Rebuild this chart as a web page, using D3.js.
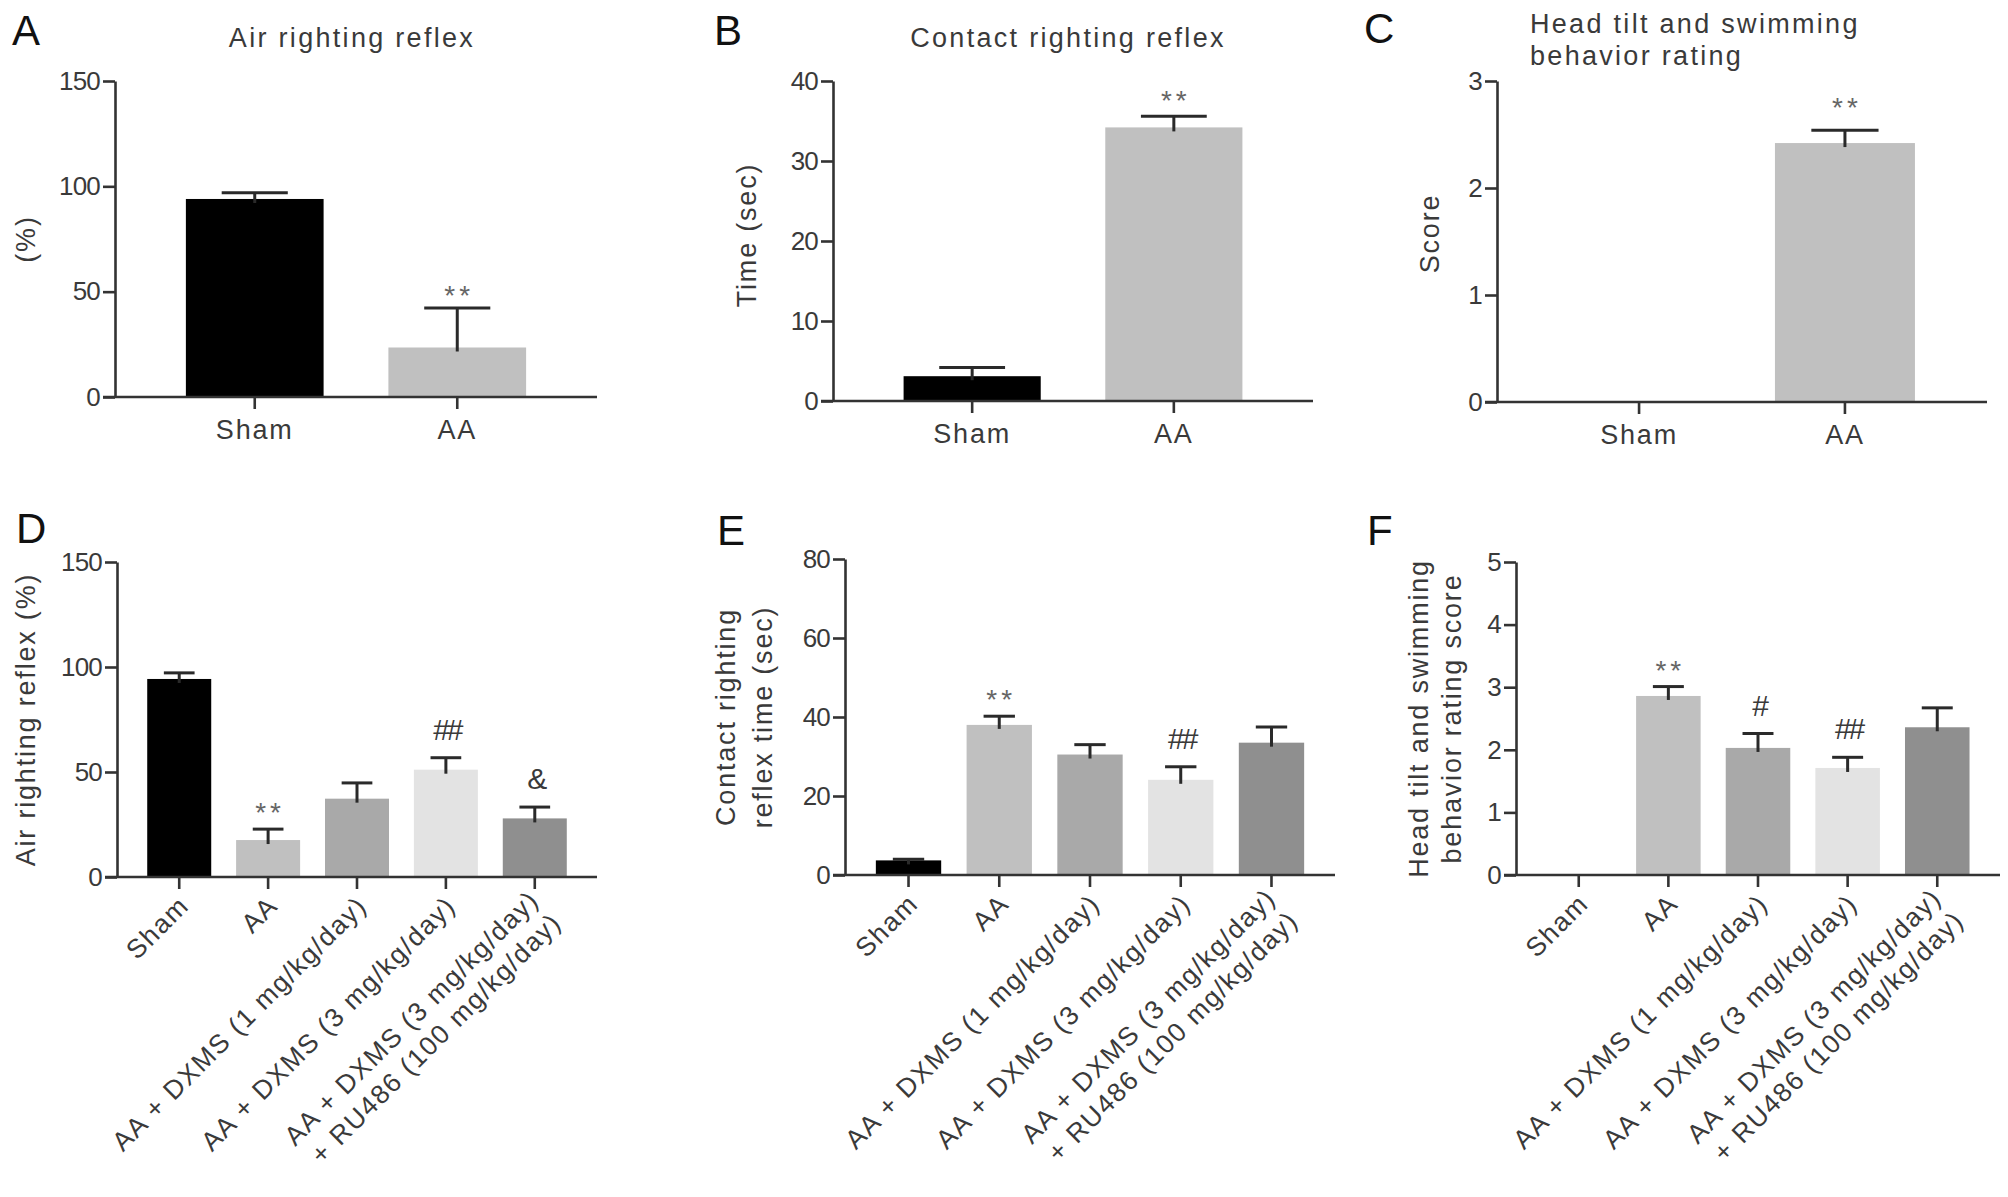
<!DOCTYPE html>
<html lang="en">
<head>
<meta charset="UTF-8">
<title>Righting reflex and head tilt panels</title>
<script src="https://d3js.org/d3.v7.min.js"></script>
<style>
  body { margin: 0; background: #fff; }
  svg { display: block; font-family: "Liberation Sans", Arial, sans-serif; }
  .tick text { fill: #3a3a3a; }
  .domain, .tick line { stroke: #333; stroke-width: 2.6; }
</style>
</head>
<body>
<div id="chart"></div>
<script>
// ---- data ----
const topGroups = [["Sham"], ["AA"]];
const bottomGroups = [
  ["Sham"],
  ["AA"],
  ["AA + DXMS (1 mg/kg/day)"],
  ["AA + DXMS (3 mg/kg/day)"],
  ["AA + DXMS (3 mg/kg/day)", "+ RU486 (100 mg/kg/day)"]
];
const groupColors = ["#000000", "#c0c0c0", "#a9a9a9", "#e3e3e3", "#8f8f8f"];

// A: air righting reflex (%)
const airTopMean = [94, 23.5];
const airTopSem = [3, 18.7];
const airTopMarks = ["", "**"];
// B: contact righting reflex (sec)
const contactTopMean = [3.1, 34.2];
const contactTopSem = [1.1, 1.4];
const contactTopMarks = ["", "**"];
// C: head tilt and swimming score
const scoreTopMean = [0, 2.42];
const scoreTopSem = [0, 0.12];
const scoreTopMarks = ["", "**"];
// D: air righting reflex (%)
const airBottomMean = [94.3, 17.6, 37.3, 51.1, 27.9];
const airBottomSem = [2.9, 5.2, 7.5, 5.7, 5.4];
const airBottomMarks = ["", "**", "", "##", "&"];
// E: contact righting reflex time (sec)
const contactBottomMean = [3.7, 38.0, 30.5, 24.1, 33.5];
const contactBottomSem = [0.3, 2.2, 2.5, 3.3, 4.0];
const contactBottomMarks = ["", "**", "", "##", ""];
// F: head tilt and swimming behavior rating score
const scoreBottomMean = [0, 2.86, 2.03, 1.71, 2.36];
const scoreBottomSem = [0, 0.15, 0.23, 0.17, 0.31];
const scoreBottomMarks = ["", "**", "#", "##", ""];

const ticksAir = [0, 50, 100, 150];
const ticksContactTop = [0, 10, 20, 30, 40];
const ticksScoreTop = [0, 1, 2, 3];
const ticksContactBottom = [0, 20, 40, 60, 80];
const ticksScoreBottom = [0, 1, 2, 3, 4, 5];

const W = 2008, H = 1197;
const svg = d3.select("#chart").append("svg")
    .attr("width", W)
    .attr("height", H);
svg.append("rect").attr("width", W).attr("height", H).attr("fill", "#fff");

const panels = [
  {letter: "A", lx: 12, ly: 45, groups: topGroups, mean: airTopMean, sem: airTopSem, marks: airTopMarks,
   ticks: ticksAir, max: 150, x0: 115, x1: 597, y0: 397, yTop: 81, lift: 0,
   title: ["Air righting reflex"], tx: 352, ty: 47, tAnchor: "middle",
   ylab: ["(%)"], ylabX: [26], ylabShift: 0},
  {letter: "B", lx: 714, ly: 45, groups: topGroups, mean: contactTopMean, sem: contactTopSem, marks: contactTopMarks,
   ticks: ticksContactTop, max: 40, x0: 833, x1: 1313, y0: 401, yTop: 81, lift: 3,
   title: ["Contact righting reflex"], tx: 1068, ty: 47, tAnchor: "middle",
   ylab: ["Time (sec)"], ylabX: [747], ylabShift: -6},
  {letter: "C", lx: 1364, ly: 43, groups: topGroups, mean: scoreTopMean, sem: scoreTopSem, marks: scoreTopMarks,
   ticks: ticksScoreTop, max: 3, x0: 1497, x1: 1987, y0: 402, yTop: 81, lift: 10,
   title: ["Head tilt and swimming", "behavior rating"], tx: 1530, ty: 33, tAnchor: "start",
   ylab: ["Score"], ylabX: [1430], ylabShift: -8},
  {letter: "D", lx: 16, ly: 543, groups: bottomGroups, mean: airBottomMean, sem: airBottomSem, marks: airBottomMarks,
   ticks: ticksAir, max: 150, x0: 117, x1: 597, y0: 877, yTop: 562, lift: 4,
   title: [], ylab: ["Air righting reflex (%)"], ylabX: [26], ylabShift: 0},
  {letter: "E", lx: 717, ly: 545, groups: bottomGroups, mean: contactBottomMean, sem: contactBottomSem, marks: contactBottomMarks,
   ticks: ticksContactBottom, max: 80, x0: 845, x1: 1335, y0: 875, yTop: 559, lift: 4,
   title: [], ylab: ["Contact righting", "reflex time (sec)"], ylabX: [726, 763], ylabShift: 0},
  {letter: "F", lx: 1367, ly: 545, groups: bottomGroups, mean: scoreBottomMean, sem: scoreBottomSem, marks: scoreBottomMarks,
   ticks: ticksScoreBottom, max: 5, x0: 1516, x1: 2000, y0: 875, yTop: 562, lift: 4,
   title: [], ylab: ["Head tilt and swimming", "behavior rating score"], ylabX: [1419, 1452], ylabShift: 0}
];

const keyOf = g => g.join(" ");
const isStar = t => t[0] === "*";

panels.forEach(function(p) {
  const g = svg.append("g");
  const rotated = p.groups.length > 2;
  const x = d3.scaleBand()
      .domain(p.groups.map(keyOf))
      .range([p.x0, p.x1])
      .paddingInner(rotated ? 0.28 : 0.32)
      .paddingOuter(rotated ? 0.34 : 0.35);
  const y = d3.scaleLinear().domain([0, p.max]).range([p.y0, p.yTop]);
  const bw = x.bandwidth();
  const cx = i => x(keyOf(p.groups[i])) + bw / 2;

  // bars
  g.selectAll("rect.bar")
      .data(p.mean)
      .join("rect")
      .attr("class", "bar")
      .attr("x", (d, i) => x(keyOf(p.groups[i])))
      .attr("y", d => y(d))
      .attr("width", bw)
      .attr("height", d => p.y0 - y(d))
      .attr("fill", (d, i) => groupColors[i]);

  // upper error bars
  const err = p.mean.map((m, i) => ({m: m, s: p.sem[i], i: i})).filter(d => d.s > 0);
  const capW = bw * 0.48;
  g.selectAll("line.stem")
      .data(err)
      .join("line")
      .attr("x1", d => cx(d.i)).attr("x2", d => cx(d.i))
      .attr("y1", d => y(d.m) + 4).attr("y2", d => y(d.m + d.s))
      .attr("stroke", "#2a2a2a").attr("stroke-width", 3);
  g.selectAll("line.cap")
      .data(err)
      .join("line")
      .attr("x1", d => cx(d.i) - capW / 2).attr("x2", d => cx(d.i) + capW / 2)
      .attr("y1", d => y(d.m + d.s)).attr("y2", d => y(d.m + d.s))
      .attr("stroke", "#2a2a2a").attr("stroke-width", 3);

  // significance marks
  g.selectAll("text.mark")
      .data(p.mean.map((m, i) => ({m: m, s: p.sem[i], t: p.marks[i], i: i})).filter(d => d.t))
      .join("text")
      .attr("x", d => cx(d.i) + (isStar(d.t) ? 2 : 1))
      .attr("y", d => y(d.m + d.s) - (isStar(d.t) ? 3 + p.lift : 18))
      .attr("text-anchor", "middle")
      .attr("font-size", d => isStar(d.t) ? 28 : 30)
      .attr("letter-spacing", d => isStar(d.t) ? 4 : -3)
      .attr("fill", d => isStar(d.t) ? "#666" : "#3a3a3a")
      .text(d => d.t);

  // axes
  g.append("g")
      .attr("transform", `translate(${p.x0},0)`)
      .call(d3.axisLeft(y).tickValues(p.ticks).tickFormat(d3.format("d"))
          .tickSize(12).tickSizeOuter(0).tickPadding(3))
      .call(a => a.selectAll("text").attr("font-size", 26).attr("letter-spacing", -0.8));

  const xa = g.append("g")
      .attr("transform", `translate(0,${p.y0})`)
      .call(d3.axisBottom(x).tickSize(12).tickSizeOuter(0).tickFormat(""));
  xa.select(".domain").attr("d", `M${p.x0 - 12},0H${p.x1}`);

  // category labels
  p.groups.forEach(function(lines, i) {
    if (!rotated) {
      g.append("text")
          .attr("x", cx(i)).attr("y", p.y0 + 42)
          .attr("text-anchor", "middle")
          .attr("font-size", 27).attr("letter-spacing", 1.8)
          .attr("fill", "#3a3a3a")
          .text(lines[0]);
    } else {
      const t = g.append("text")
          .attr("transform", `translate(${cx(i) - 2},${p.y0 + 17}) rotate(-45)`)
          .attr("text-anchor", "end")
          .attr("font-size", 26.5).attr("letter-spacing", 1.6)
          .attr("fill", "#3a3a3a");
      lines.forEach(function(l, k) {
        const first = (0.71 - 0.3 * (lines.length - 1)).toFixed(2);
        t.append("tspan").attr("x", 0).attr("dy", k === 0 ? first + "em" : "1.2em").text(l);
      });
    }
  });

  // y label
  const ym = (p.y0 + p.yTop) / 2 + p.ylabShift;
  p.ylab.forEach(function(l, k) {
    g.append("text")
        .attr("transform", `translate(${p.ylabX[k]},${ym}) rotate(-90)`)
        .attr("text-anchor", "middle")
        .attr("dy", "0.35em")
        .attr("font-size", 27).attr("letter-spacing", 1.8)
        .attr("fill", "#3a3a3a")
        .text(l);
  });

  // title
  p.title.forEach(function(l, k) {
    g.append("text")
        .attr("x", p.tx).attr("y", p.ty + k * 32)
        .attr("text-anchor", p.tAnchor)
        .attr("font-size", 27).attr("letter-spacing", 2.3)
        .attr("fill", "#3a3a3a")
        .text(l);
  });

  // panel letter
  g.append("text")
      .attr("x", p.lx).attr("y", p.ly)
      .attr("font-size", 42)
      .attr("fill", "#111")
      .text(p.letter);
});
</script>
</body>
</html>
